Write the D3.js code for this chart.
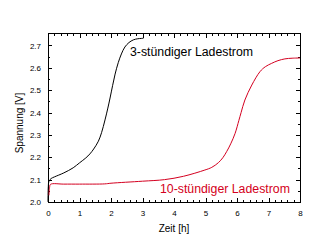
<!DOCTYPE html>
<html>
<head>
<meta charset="utf-8">
<script src="https://cdn.jsdelivr.net/npm/d3@7"></script>
<style>
  body { margin: 0; background: #fff; }
  svg { display: block; }
  text { font-family: "Liberation Sans", Arial, sans-serif; }
</style>
</head>
<body>
<script>
// 3-hour charge: time [h], voltage [V]
var t3 = [0, 0.01, 0.03, 0.1, 0.2, 0.5, 0.8, 1.0, 1.2, 1.33, 1.45, 1.6, 1.7, 1.81, 1.9, 1.97, 2.05, 2.13, 2.23, 2.33, 2.44, 2.57, 2.71, 2.85, 3.03]
var v3 = [2.0, 2.07, 2.093, 2.105, 2.112, 2.13, 2.153, 2.175, 2.197, 2.215, 2.237, 2.272, 2.31, 2.367, 2.42, 2.465, 2.52, 2.572, 2.623, 2.662, 2.693, 2.713, 2.725, 2.73, 2.732]

// 10-hour charge
var t10 = [0.03, 0.05, 0.08, 0.5, 1.0, 1.8, 2.0, 3.0, 3.7, 4.3, 4.98, 5.2, 5.41, 5.55, 5.67, 5.8, 5.94, 6.06, 6.13, 6.25, 6.47, 6.73, 6.9, 7.1, 7.3, 7.52, 7.75, 8.0]
var v10 = [2.03, 2.065, 2.079, 2.08, 2.08, 2.081, 2.084, 2.093, 2.1, 2.115, 2.143, 2.155, 2.176, 2.198, 2.225, 2.26, 2.307, 2.365, 2.4, 2.456, 2.523, 2.583, 2.605, 2.62, 2.632, 2.64, 2.643, 2.644]

var xTicks = [0, 1, 2, 3, 4, 5, 6, 7, 8]
var yTicks = [2.0, 2.1, 2.2, 2.3, 2.4, 2.5, 2.6, 2.7]

var width = 330
var height = 240
var pLeft = 48, pRight = 300, pTop = 33.5, pBottom = 202

var svg = d3.select('body').append('svg')
  .attr('width', width)
  .attr('height', height)

var x = d3.scaleLinear().domain([0, 8]).range([pLeft, pRight])
var y = d3.scaleLinear().domain([2.0, 2.7535]).range([pBottom, pTop])

var fmt = d3.format('.1f')

// frame
svg.append('rect')
  .attr('x', pLeft).attr('y', pTop)
  .attr('width', pRight - pLeft).attr('height', pBottom - pTop)
  .attr('fill', 'none').attr('stroke', '#000').attr('stroke-width', 1)
  .attr('shape-rendering', 'crispEdges')

// inward ticks on all four sides
var xMinor = d3.range(0, 8.001, 0.2)
var yMinor = d3.range(2.0, 2.75, 0.05)

svg.append('g').attr('transform', 'translate(0,' + pBottom + ')')
  .call(d3.axisBottom(x).tickValues(xMinor).tickSize(-2).tickFormat(''))
svg.append('g').attr('transform', 'translate(0,' + pBottom + ')')
  .call(d3.axisBottom(x).tickValues(xTicks).tickSize(-4).tickPadding(8).tickFormat(d3.format('d')))
svg.append('g').attr('transform', 'translate(0,' + pTop + ')')
  .call(d3.axisTop(x).tickValues(xMinor).tickSize(-2).tickFormat(''))
svg.append('g').attr('transform', 'translate(0,' + pTop + ')')
  .call(d3.axisTop(x).tickValues(xTicks).tickSize(-4).tickFormat(''))

svg.append('g').attr('transform', 'translate(' + pLeft + ',0)')
  .call(d3.axisLeft(y).tickValues(yMinor).tickSize(-2).tickFormat(''))
svg.append('g').attr('transform', 'translate(' + pLeft + ',0)')
  .call(d3.axisLeft(y).tickValues(yTicks).tickSize(-4).tickPadding(7).tickFormat(fmt))
svg.append('g').attr('transform', 'translate(' + pRight + ',0)')
  .call(d3.axisRight(y).tickValues(yMinor).tickSize(-2).tickFormat(''))
svg.append('g').attr('transform', 'translate(' + pRight + ',0)')
  .call(d3.axisRight(y).tickValues(yTicks).tickSize(-4).tickFormat(''))

svg.selectAll('.domain').remove()
svg.selectAll('.tick line').attr('shape-rendering', 'crispEdges')
svg.selectAll('.tick text').attr('font-size', 8).attr('font-family', '"DejaVu Sans", sans-serif').attr('fill', '#000')

// curves
var line = d3.line().x(d => x(d[0])).y(d => y(d[1])).curve(d3.curveCatmullRom.alpha(0.5))

svg.append('path')
  .datum(d3.zip(t3, v3))
  .attr('d', line)
  .attr('fill', 'none').attr('stroke', '#000').attr('stroke-width', 1)

svg.append('path')
  .datum(d3.zip(t10, v10))
  .attr('d', line)
  .attr('fill', 'none').attr('stroke', '#d40020').attr('stroke-width', 1)

// labels
svg.append('text')
  .attr('x', 130).attr('y', 55.5)
  .attr('font-size', 12.3).attr('fill', '#000')
  .text('3-stündiger Ladestrom')

svg.append('text')
  .attr('x', 160).attr('y', 193)
  .attr('font-size', 12.3).attr('fill', '#d40020')
  .text('10-stündiger Ladestrom')

svg.append('text')
  .attr('x', (pLeft + pRight) / 2).attr('y', 231.5)
  .attr('text-anchor', 'middle').attr('font-size', 10)
  .text('Zeit [h]')

svg.append('text')
  .attr('transform', 'translate(23,' + 123 + ') rotate(-90)')
  .attr('text-anchor', 'middle').attr('font-size', 10)
  .text('Spannung [V]')
</script>
</body>
</html>
